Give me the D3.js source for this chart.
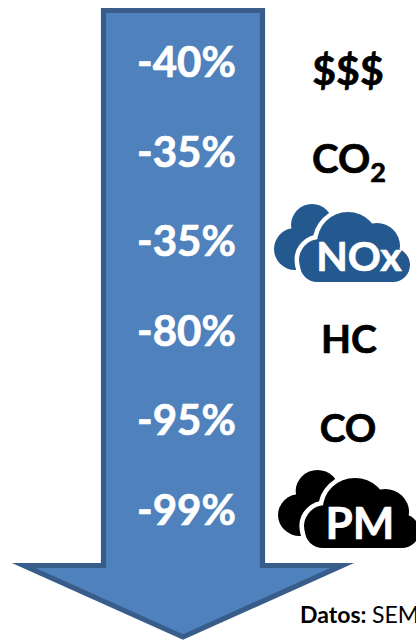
<!DOCTYPE html>
<html>
<head>
<meta charset="utf-8">
<script src="https://cdn.jsdelivr.net/npm/d3@7"></script>
<style>
html,body{margin:0;padding:0;background:#fff;overflow:hidden}
svg{display:block}
text{font-family:Lato,"Open Sans",sans-serif;font-weight:700}
</style>
</head>
<body>
<svg id="chart" width="416" height="642"></svg>
<script>
// Emission and cost reductions, top to bottom
const categories = ["$$$", "CO2", "NOx", "HC", "CO", "PM"];
const reductions = [-40, -35, -35, -80, -95, -99];
const cloudColors = { NOx: "#24598f", PM: "#000000" };

const svg = d3.select("#chart");
const y = d3.scalePoint().domain(categories).range([64, 511.5]);

// Downward block arrow behind the percentages
const arrowOutline = [[103.5, 10.5], [262.5, 10.5], [262.5, 565.5], [342, 565.5],
  [183, 637], [24, 565.5], [103.5, 565.5]];
svg.append("path")
  .attr("d", d3.line()(arrowOutline) + "Z")
  .attr("fill", "#4f81bd")
  .attr("stroke", "#385d8a")
  .attr("stroke-width", 5.2)
  .attr("stroke-linejoin", "miter")
  .attr("stroke-miterlimit", 10);

svg.selectAll("text.pct")
  .data(categories)
  .join("text")
  .attr("class", "pct")
  .attr("x", 186.5)
  .attr("y", d => y(d) + 13)
  .attr("text-anchor", "middle")
  .attr("fill", "#fff")
  .attr("stroke", "#fff")
  .attr("stroke-width", 0.7)
  .attr("font-size", 42)
  .text((d, i) => `${reductions[i]}%`);

// Cloud badge: a rear puff, a white halo, then the front puff carrying the label
const rearPuffs = [[38, 35, 21], [21, 59, 21]];
const frontPuffs = [[74, 53, 31], [103, 56, 23], [46, 70, 21]];
function drawCloud(name, dx, dy, sx) {
  const color = cloudColors[name];
  const g = svg.append("g").attr("transform", `translate(${dx},${dy}) scale(${sx},1)`);
  g.selectAll("circle.rear").data(rearPuffs).join("circle").attr("class", "rear")
    .attr("cx", d => d[0]).attr("cy", d => d[1]).attr("r", d => d[2]).attr("fill", color);
  g.append("rect").attr("x", 21).attr("y", 35).attr("width", 30).attr("height", 45).attr("fill", color);
  const front = g.append("g");
  const halo = front.append("g").attr("fill", "#fff").attr("stroke", "#fff").attr("stroke-width", 9);
  halo.selectAll("circle").data(frontPuffs).join("circle")
    .attr("cx", d => d[0]).attr("cy", d => d[1]).attr("r", d => d[2]);
  halo.append("rect").attr("x", 26).attr("y", 58).attr("width", 110).attr("height", 34).attr("rx", 17);
  front.selectAll("circle.fill").data(frontPuffs).join("circle").attr("class", "fill")
    .attr("cx", d => d[0]).attr("cy", d => d[1]).attr("r", d => d[2]).attr("fill", color);
  front.append("rect").attr("x", 26).attr("y", 58).attr("width", 110).attr("height", 34)
    .attr("rx", 17).attr("fill", color);
}
drawCloud("NOx", 274, 190, 1);
drawCloud("PM", 278, 456, 1.04);

// Labels beside the arrow
const labelX = { "$$$": 348, CO2: 349, NOx: 359, HC: 349, CO: 348, PM: 360 };
const labelDy = { "$$$": 21, CO2: 19, NOx: 28, HC: 20, CO: 20, PM: 27 };
const labelSize = { "$$$": 41, CO2: 40, NOx: 41, PM: 44 };
const labels = svg.selectAll("text.lab")
  .data(categories)
  .join("text")
  .attr("class", "lab")
  .attr("x", d => labelX[d])
  .attr("y", d => y(d) + labelDy[d])
  .attr("text-anchor", "middle")
  .attr("fill", d => (cloudColors[d] ? "#fff" : "#000"))
  .attr("stroke", d => (cloudColors[d] ? "#fff" : "#000"))
  .attr("stroke-width", 0.7)
  .attr("font-size", d => labelSize[d] || 39);
labels.each(function (d) {
  const t = d3.select(this);
  if (d === "CO2") {
    t.append("tspan").text("CO");
    t.append("tspan").attr("font-size", 27).attr("dy", 9).text("2");
  } else {
    t.text(d);
  }
});

// Source note, running off the right edge
const note = svg.append("text").attr("x", 300).attr("y", 623).attr("font-size", 23).attr("fill", "#000");
note.append("tspan").text("Datos: ");
note.append("tspan").attr("font-weight", 400).text("SEMARNAT");
</script>
</body>
</html>
